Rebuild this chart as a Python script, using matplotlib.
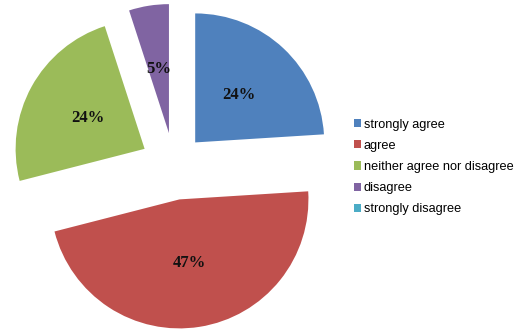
import matplotlib
matplotlib.use('Agg')
import matplotlib.pyplot as plt

# survey answers, share in percent
labels = ["strongly agree", "agree", "neither agree nor disagree", "disagree", "strongly disagree"]
shares = [24, 47, 24, 5, 0]
colors = ["#4F81BD", "#C0504D", "#9BBB59", "#8064A2", "#4BACC6"]
explode = [0.24, 0.27, 0.26, 0.25, 0.0]

W, H = 522, 336
fig = plt.figure(figsize=(W / 100, H / 100), dpi=100)
ax = fig.add_axes([0, 0, 1, 1])

# pie centre and radius in pixels
cx, cy, R = 174, 165, 129

def pct(v):
    return "" if v < 0.5 else "%d%%" % round(v)

wedges, texts, autotexts = ax.pie(
    shares, colors=colors, explode=explode, startangle=90, counterclock=False,
    autopct=pct, pctdistance=0.5, radius=1, frame=True,
    wedgeprops=dict(linewidth=0),
    textprops=dict(family="Liberation Serif", fontweight="bold", fontsize=12, color="#111111"))
ax.set_xlim(-cx / R, (W - cx) / R)
ax.set_ylim(-(H - cy) / R, cy / R)
ax.axis('off')

fig.legend(wedges, labels, loc="center left", bbox_to_anchor=(342 / W, 1 - 167 / H),
           frameon=False, handlelength=0.6, handleheight=0.6, handletextpad=0.2,
           labelspacing=0.72, prop=dict(family="Liberation Sans", size=9.2))

fig.savefig("out.png", dpi=100)
